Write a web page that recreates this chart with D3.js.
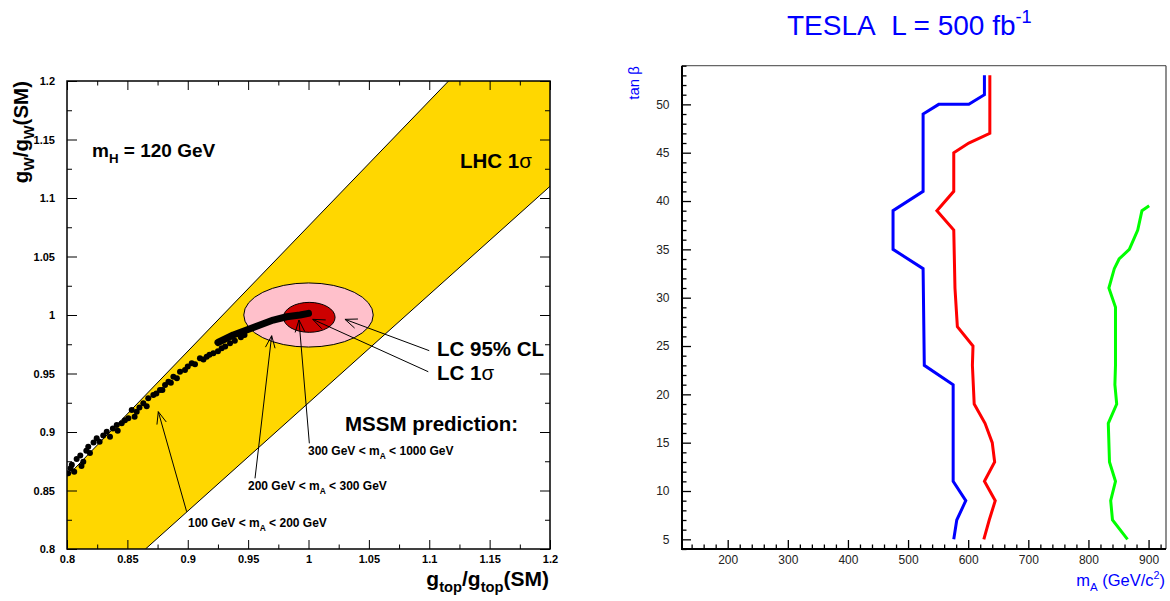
<!DOCTYPE html>
<html>
<head>
<meta charset="utf-8">
<script src="https://cdn.jsdelivr.net/npm/d3@7"></script>
<style>
  html, body { margin: 0; padding: 0; background: #fff; }
  svg { display: block; }
</style>
</head>
<body>
<svg id="chart" width="1170" height="601"></svg>
<script>
// ---------------- DATA: left panel ----------------
const leftXTicks = [0.8, 0.85, 0.9, 0.95, 1.0, 1.05, 1.1, 1.15, 1.2];
const leftXMinor = [0.825, 0.875, 0.925, 0.975, 1.025, 1.075, 1.125, 1.175];
const leftYTicks = [0.8, 0.85, 0.9, 0.95, 1.0, 1.05, 1.1, 1.15, 1.2];
const leftYMinor = [0.825, 0.875, 0.925, 0.975, 1.025, 1.075, 1.125, 1.175];

// LHC 1 sigma band (polygon corners, data coords)
const lhcBand = [[0.8, 0.8], [0.8, 0.862], [1.116, 1.2], [1.2, 1.2], [1.2, 1.110], [0.865, 0.8]];
const lhcUpperEdge = [[0.8, 0.862], [1.116, 1.2]];
const lhcLowerEdge = [[0.865, 0.8], [1.2, 1.110]];

// LC ellipses: [cx, cy, rx, ry]
const lc95 = [1.0, 1.0, 0.0536, 0.0274];
const lc1s = [1.0006, 0.998, 0.0214, 0.0128];

// MSSM prediction scan points (sparse part)
const mssmX = [0.801, 0.803, 0.804, 0.806, 0.808, 0.811, 0.812, 0.8135, 0.816, 0.8176, 0.819, 0.822, 0.8246, 0.827, 0.830,
  0.8329, 0.8356, 0.838, 0.8412, 0.842, 0.8453, 0.848, 0.8508, 0.8536, 0.856, 0.8577, 0.860, 0.8632, 0.866, 0.8673, 0.8715, 0.874,
  0.877, 0.879, 0.8812, 0.884, 0.886, 0.8881, 0.891, 0.8936, 0.8977, 0.900, 0.9033, 0.906, 0.9101, 0.913, 0.9157, 0.918, 0.9212,
  0.925, 0.9281, 0.931, 0.935, 0.939, 0.944, 0.947];
const mssmY = [0.8647, 0.869, 0.872, 0.866, 0.877, 0.880, 0.871, 0.8746, 0.884, 0.8874, 0.882, 0.891, 0.8946, 0.8917, 0.897,
  0.9003, 0.896, 0.903, 0.906, 0.901, 0.9074, 0.910, 0.9117, 0.9188, 0.913, 0.9173, 0.921, 0.9245, 0.922, 0.9288, 0.9316, 0.933,
  0.9359, 0.936, 0.9402, 0.943, 0.942, 0.9473, 0.946, 0.9515, 0.953, 0.956, 0.9587, 0.958, 0.963, 0.962, 0.9644, 0.966, 0.9673,
  0.969, 0.9715, 0.973, 0.9758, 0.978, 0.981, 0.983];
// MSSM prediction, dense part (points so close they form a solid band)
const mssmDenseX = [0.925, 0.9377, 0.9488, 0.9598, 0.9708, 0.9819, 0.993, 1.0];
const mssmDenseY = [0.9765, 0.9829, 0.9872, 0.9915, 0.9957, 0.9985, 1.0, 1.0014];

// annotation arrows: [fromX, fromY, tipX, tipY]
const arrows = [
  [0.8991, 0.8319, 0.8756, 0.9174],
  [0.9557, 0.8604, 0.9695, 0.9823],
  [1.0007, 0.8903, 0.9921, 0.9957],
  [1.0992, 0.9515, 1.0035, 0.9963],
  [1.1000, 0.9695, 1.0302, 0.9963]
];

// ---------------- DATA: right panel ----------------
const rightXTicks = [200, 300, 400, 500, 600, 700, 800, 900];
const rightXMinor = d3.range(140, 930, 20).filter(v => v % 100 !== 0);
const rightYTicks = [5, 10, 15, 20, 25, 30, 35, 40, 45, 50];
const rightYMinor = d3.range(4, 55, 1).filter(v => v % 5 !== 0);

const blueTan = [5, 7, 9, 11, 21, 23, 33, 35, 39, 41, 49, 50, 50, 51, 53];
const blueMA  = [576, 581, 596, 575, 575, 527, 525, 475, 475, 525, 525, 551, 601, 627, 627];
const redTan  = [5, 7, 9, 11, 13, 15, 17, 19, 23, 25, 27, 31, 37, 39, 41, 45, 46, 47, 53];
const redMA   = [626, 635, 645, 627, 644, 640, 628, 610, 607, 608, 582, 578, 576, 548, 576, 576, 601, 636, 636];
const greenTan = [5, 7, 9, 11, 13, 17, 19, 21, 23, 29, 31, 33, 34, 35, 37, 39, 39.5];
const greenMA  = [865, 840, 837, 845, 835, 833, 847, 844, 845, 845, 834, 843, 851, 868, 882, 889, 901];

// ---------------- DRAW ----------------
const svg = d3.select("#chart");
const BOLD = "'Liberation Sans', Arial, Helvetica, sans-serif";

// ===== Left panel =====
const xL = d3.scaleLinear().domain([0.8, 1.2]).range([67, 550]);
const yL = d3.scaleLinear().domain([0.8, 1.2]).range([549, 81]);
const L = svg.append("g");

svg.append("defs").append("clipPath").attr("id", "clipL")
  .append("rect").attr("x", 67).attr("y", 81).attr("width", 483).attr("height", 468);
const plotL = L.append("g").attr("clip-path", "url(#clipL)");

plotL.append("path")
  .attr("d", d3.line().x(d => xL(d[0])).y(d => yL(d[1]))(lhcBand) + "Z")
  .attr("fill", "#FFD700");
[lhcUpperEdge, lhcLowerEdge].forEach(e => {
  plotL.append("path")
    .attr("d", d3.line().x(d => xL(d[0])).y(d => yL(d[1]))(e))
    .attr("stroke", "#000").attr("stroke-width", 1).attr("fill", "none");
});

function ell(p, fill) {
  plotL.append("ellipse")
    .attr("cx", xL(p[0])).attr("cy", yL(p[1]))
    .attr("rx", xL(p[0] + p[2]) - xL(p[0]))
    .attr("ry", yL(p[1]) - yL(p[1] + p[3]))
    .attr("fill", fill).attr("stroke", "#000").attr("stroke-width", 1);
}
ell(lc95, "#FFC0CB");
ell(lc1s, "#CC0000");

// MSSM scan points
plotL.selectAll("circle.mssm").data(d3.range(mssmX.length)).enter().append("circle")
  .attr("class", "mssm")
  .attr("cx", i => xL(mssmX[i])).attr("cy", i => yL(mssmY[i]))
  .attr("r", 3).attr("fill", "#000");
plotL.append("path")
  .attr("d", d3.line().x(i => xL(mssmDenseX[i])).y(i => yL(mssmDenseY[i]))(d3.range(mssmDenseX.length)))
  .attr("fill", "none").attr("stroke", "#000").attr("stroke-width", 7)
  .attr("stroke-linecap", "round").attr("stroke-linejoin", "round");

// arrows
arrows.forEach(a => {
  const x0 = xL(a[0]), y0 = yL(a[1]), x1 = xL(a[2]), y1 = yL(a[3]);
  const ang = Math.atan2(y1 - y0, x1 - x0), len = 13, phi = 0.38;
  L.append("line").attr("x1", x0).attr("y1", y0).attr("x2", x1).attr("y2", y1)
    .attr("stroke", "#000").attr("stroke-width", 1);
  L.append("path")
    .attr("d", `M${x1 - len * Math.cos(ang - phi)},${y1 - len * Math.sin(ang - phi)}L${x1},${y1}L${x1 - len * Math.cos(ang + phi)},${y1 - len * Math.sin(ang + phi)}`)
    .attr("fill", "none").attr("stroke", "#000").attr("stroke-width", 1);
});

// axes left panel
const fmtL = d => String(+(+d).toFixed(2));
function styleAxis(g, size, weight, color) {
  g.select(".domain").remove();
  g.selectAll("line").attr("stroke", "#000");
  g.selectAll("text").attr("font-family", BOLD).attr("font-size", size)
    .attr("font-weight", weight).attr("fill", color || "#000");
}
L.append("g").attr("transform", "translate(0,549)")
  .call(d3.axisBottom(xL).tickValues(leftXTicks).tickFormat(fmtL).tickSize(-9).tickPadding(6.5))
  .call(g => styleAxis(g, 11, "bold"));
L.append("g").attr("transform", "translate(0,549)")
  .call(d3.axisBottom(xL).tickValues(leftXMinor).tickFormat("").tickSize(-4.5))
  .call(g => styleAxis(g, 11, "bold"));
L.append("g").attr("transform", "translate(0,81)")
  .call(d3.axisTop(xL).tickValues(leftXTicks).tickFormat("").tickSize(-9))
  .call(g => styleAxis(g, 11, "bold"));
L.append("g").attr("transform", "translate(0,81)")
  .call(d3.axisTop(xL).tickValues(leftXMinor).tickFormat("").tickSize(-4.5))
  .call(g => styleAxis(g, 11, "bold"));
L.append("g").attr("transform", "translate(67,0)")
  .call(d3.axisLeft(yL).tickValues(leftYTicks).tickFormat(fmtL).tickSize(-10).tickPadding(12))
  .call(g => styleAxis(g, 11, "bold"));
L.append("g").attr("transform", "translate(67,0)")
  .call(d3.axisLeft(yL).tickValues(leftYMinor).tickFormat("").tickSize(-5))
  .call(g => styleAxis(g, 11, "bold"));
L.append("g").attr("transform", "translate(550,0)")
  .call(d3.axisRight(yL).tickValues(leftYTicks).tickFormat("").tickSize(-10))
  .call(g => styleAxis(g, 11, "bold"));
L.append("g").attr("transform", "translate(550,0)")
  .call(d3.axisRight(yL).tickValues(leftYMinor).tickFormat("").tickSize(-5))
  .call(g => styleAxis(g, 11, "bold"));
L.append("rect").attr("x", 67).attr("y", 81).attr("width", 483).attr("height", 468)
  .attr("fill", "none").attr("stroke", "#000").attr("stroke-width", 1.5);

// text helper with sub/superscripts
function rich(g, x, y, parts, size, opts) {
  opts = opts || {};
  const t = g.append("text").attr("x", x).attr("y", y)
    .attr("font-family", opts.family || BOLD).attr("font-size", size)
    .attr("font-weight", opts.weight || "bold").attr("fill", opts.color || "#000")
    .attr("text-anchor", opts.anchor || "start")
    .style("white-space", "pre");
  if (opts.rotate) t.attr("transform", `rotate(${opts.rotate},${x},${y})`);
  let shift = 0;
  parts.forEach(p => {
    const s = t.append("tspan").text(p[0]);
    let target = 0, fs = size;
    if (p[1] === "sub") { target = size * 0.3; fs = size * 0.7; }
    if (p[1] === "sup") { target = -size * 0.42; fs = size * 0.65; }
    if (p[1] === "sym") { fs = size; s.attr("font-weight", "normal"); }
    s.attr("font-size", fs).attr("dy", target - shift);
    shift = target;
  });
  return t;
}

rich(L, 92, 157, [["m", "n"], ["H", "sub"], [" = 120 GeV", "n"]], 19);
rich(L, 460, 168, [["LHC 1", "n"], ["σ", "sym"]], 20.5);
rich(L, 437, 356, [["LC 95% CL", "n"]], 20.5);
rich(L, 437, 380, [["LC 1", "n"], ["σ", "sym"]], 20.5);
rich(L, 345, 431, [["MSSM prediction:", "n"]], 20.5);
rich(L, 308, 455, [["300 GeV < m", "n"], ["A", "sub"], [" < 1000 GeV", "n"]], 12);
rich(L, 248, 490, [["200 GeV < m", "n"], ["A", "sub"], [" < 300 GeV", "n"]], 12);
rich(L, 188, 527, [["100 GeV < m", "n"], ["A", "sub"], [" < 200 GeV", "n"]], 12);

// axis titles
rich(L, 549, 586, [["g", "n"], ["top", "sub"], ["/g", "n"], ["top", "sub"], ["(SM)", "n"]], 21, { anchor: "end" });
rich(L, 28, 81, [["g", "n"], ["W", "sub"], ["/g", "n"], ["W", "sub"], ["(SM)", "n"]], 20.5, { anchor: "end", rotate: -90 });

// ===== Right panel =====
const xR = d3.scaleLinear().domain([124, 929]).range([682, 1166]);
const yR = d3.scaleLinear().domain([4, 54]).range([549, 65.7]);
const R = svg.append("g");
const REG = "'Liberation Sans', Arial, Helvetica, sans-serif";

R.append("line").attr("x1", 682).attr("x2", 1166).attr("y1", 65.7).attr("y2", 65.7)
  .attr("stroke", "#666").attr("stroke-width", 1.2);
R.append("line").attr("x1", 1166).attr("x2", 1166).attr("y1", 65.7).attr("y2", 549)
  .attr("stroke", "#444").attr("stroke-width", 1.2);

function styleR(g) {
  g.select(".domain").remove();
  g.selectAll("line").attr("stroke", "#000").attr("stroke-width", 1.3);
  g.selectAll("text").attr("font-family", REG).attr("font-size", 12).attr("fill", "#222");
}
R.append("g").attr("transform", "translate(0,549)")
  .call(d3.axisBottom(xR).tickValues(rightXTicks).tickFormat(d3.format("d")).tickSize(-9).tickPadding(6.5))
  .call(styleR);
R.append("g").attr("transform", "translate(0,549)")
  .call(d3.axisBottom(xR).tickValues(rightXMinor).tickFormat("").tickSize(-4.5))
  .call(styleR);
R.append("g").attr("transform", "translate(682,0)")
  .call(d3.axisLeft(yR).tickValues(rightYTicks).tickFormat(d3.format("d")).tickSize(-9).tickPadding(12.5))
  .call(styleR);
R.append("g").attr("transform", "translate(682,0)")
  .call(d3.axisLeft(yR).tickValues(rightYMinor).tickFormat("").tickSize(-4.5))
  .call(styleR);
R.append("line").attr("x1", 682).attr("x2", 682).attr("y1", 65.7).attr("y2", 549.8)
  .attr("stroke", "#000").attr("stroke-width", 2);
R.append("line").attr("x1", 681).attr("x2", 1166).attr("y1", 549).attr("y2", 549)
  .attr("stroke", "#000").attr("stroke-width", 2);

function curve(tan, ma, color) {
  R.append("path")
    .attr("d", d3.line().x(i => xR(ma[i])).y(i => yR(tan[i]))(d3.range(tan.length)))
    .attr("fill", "none").attr("stroke", color).attr("stroke-width", 3)
    .attr("stroke-linejoin", "miter");
}
curve(blueTan, blueMA, "#0000ff");
curve(redTan, redMA, "#ff0000");
curve(greenTan, greenMA, "#00ff00");

// titles
rich(R, 787, 35, [["TESLA\u00A0\u00A0L = 500 fb", "n"], ["-1", "sup"]], 28, { family: REG, weight: "normal", color: "#0000ff" });
rich(R, 1165, 586, [["m", "n"], ["A", "sub"], [" (GeV/c", "n"], ["2", "sup"], [")", "n"]], 16.5,
  { family: REG, weight: "normal", color: "#0000ff", anchor: "end" });
rich(R, 639, 66, [["tan β", "n"]], 15, { family: REG, weight: "normal", color: "#0000ff", anchor: "end", rotate: -90 });
</script>
</body>
</html>
